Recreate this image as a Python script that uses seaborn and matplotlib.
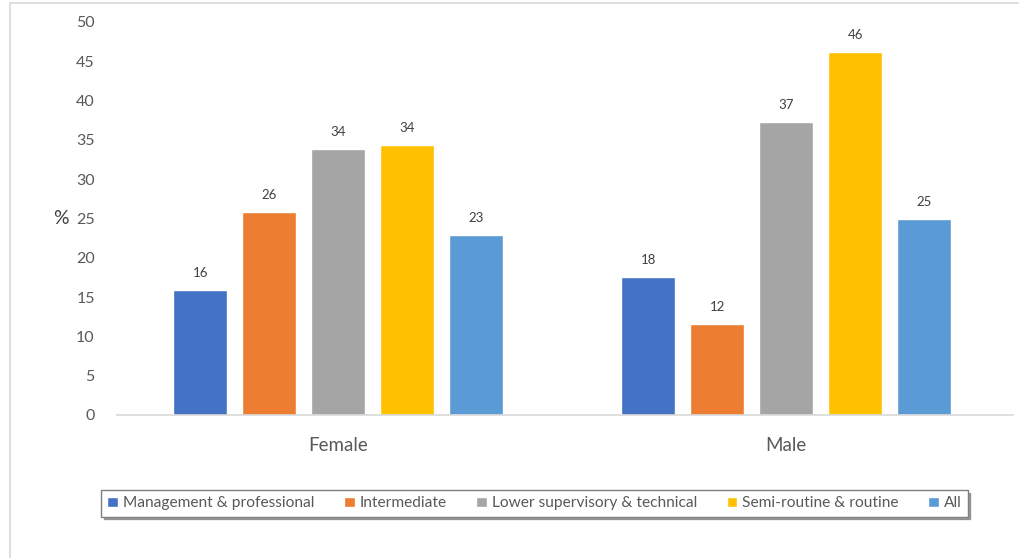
import pandas as pd
import matplotlib.pyplot as plt
import seaborn as sns
from matplotlib.lines import Line2D

# values (percent)
groups = ['Female', 'Male']
classes = ['Management & professional', 'Intermediate', 'Lower supervisory & technical',
           'Semi-routine & routine', 'All']
female = [15.9, 25.8, 33.8, 34.3, 22.9]
male = [17.6, 11.6, 37.3, 46.2, 24.9]
yticks = list(range(0, 55, 5))
colors = ['#4472C4', '#ED7D31', '#A5A5A5', '#FFC000', '#5B9BD5']

rows = []
for g, vals in zip(groups, [female, male]):
    for c, v in zip(classes, vals):
        rows.append({'Sex': g, 'Class': c, 'Pct': v})
df = pd.DataFrame(rows)

sns.set_theme(style='white')
plt.rcParams['font.family'] = ['Lato', 'DejaVu Sans']

fig = plt.figure(figsize=(10.19, 5.58), dpi=100)
ax = fig.add_axes([0.1148, 0.2563, 0.8794, 0.7043])

sns.barplot(data=df, x='Sex', y='Pct', hue='Class', order=groups, hue_order=classes,
            palette=colors, width=0.77, gap=0.22, saturation=1, ax=ax, legend=True)

for cont in ax.containers:
    ax.bar_label(cont, fmt='%.0f', padding=8, fontsize=9.5, color='#404040')

ax.set_ylim(0, 50)
ax.set_yticks(yticks)
ax.set_xlim(-0.494, 1.506)
ax.tick_params(axis='y', length=0, pad=16, labelsize=11.5, labelcolor='#595959')
ax.tick_params(axis='x', length=0, pad=16, labelsize=13.5, labelcolor='#595959')
ax.set_xlabel('')
ax.set_ylabel('%', rotation=0, fontsize=14, color='#404040', labelpad=28, va='center')
ax.yaxis.set_label_coords(-0.062, 0.5)
for s in ['top', 'right', 'left']:
    ax.spines[s].set_visible(False)
ax.spines['bottom'].set_color('#D9D9D9')
ax.spines['bottom'].set_linewidth(1.2)

handles, labels = ax.get_legend_handles_labels()
ax.legend_.remove()
leg = fig.legend(handles, labels, loc='center', bbox_to_anchor=(0.5245, 0.0977), ncol=5,
                 fontsize=11.2, handlelength=0.7, handleheight=0.7, handletextpad=0.3,
                 columnspacing=1.9, frameon=True, fancybox=False, shadow=True,
                 borderpad=0.4, labelcolor='#595959')
leg.get_frame().set_edgecolor('#7F7F7F')
leg.get_frame().set_linewidth(1.0)

# faint chart border on the left and top edges
fig.add_artist(Line2D([10 / 1019, 10 / 1019], [0, 1 - 3 / 558], transform=fig.transFigure,
                      color='#D9D9D9', lw=1.2))
fig.add_artist(Line2D([10 / 1019, 1], [1 - 3 / 558, 1 - 3 / 558], transform=fig.transFigure,
                      color='#D9D9D9', lw=1.2))

fig.savefig('out.png', dpi=100)
